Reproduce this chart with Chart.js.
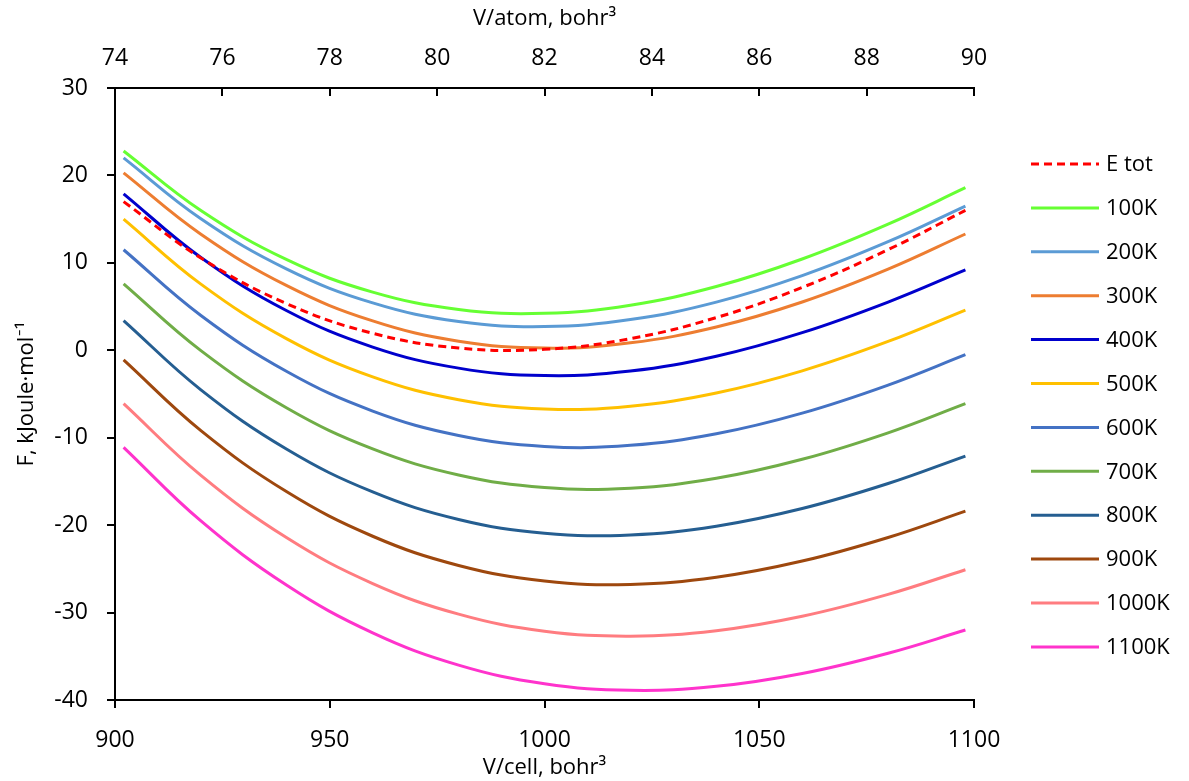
<!DOCTYPE html>
<html>
<head>
<meta charset="utf-8">
<script src="https://cdn.jsdelivr.net/npm/chart.js@4"></script>
<style>
  html, body { margin: 0; padding: 0; background: #fff; }
</style>
</head>
<body>
<canvas id="ChartCanvas1" width="1189" height="781"></canvas>
<script>
// volume per cell, bohr^3
const vCell = [902, 920, 940, 960, 980, 1000, 1020, 1040, 1060, 1080, 1098];

// free energy, kJ/mol
const eTot  = [17.0, 10.56, 5.32, 1.94, 0.26, 0.11, 1.33, 3.74, 7.19, 11.51, 16.0];
const f100  = [22.8, 15.98, 10.36, 6.65, 4.67, 4.23, 5.16, 7.29, 10.44, 14.43, 18.6];
const f200  = [22.0, 15.04, 9.28, 5.42, 3.29, 2.71, 3.51, 5.51, 8.54, 12.42, 16.5];
const f300  = [20.3, 13.28, 7.39, 3.36, 1.04, 0.25, 0.85, 2.66, 5.52, 9.28, 13.3];
const f400  = [17.9, 10.61, 4.52, 0.37, -2.04, -2.89, -2.38, -0.68, 2.02, 5.52, 9.2];
const f500  = [15.0, 7.57, 1.31, -3.04, -5.65, -6.71, -6.39, -4.88, -2.35, 1.01, 4.6];
const f600  = [11.5, 3.98, -2.43, -6.95, -9.74, -11.00, -10.87, -9.55, -7.19, -3.98, -0.5];
const f700  = [7.6, -0.04, -6.60, -11.28, -14.26, -15.70, -15.77, -14.64, -12.47, -9.44, -6.1];
const f800  = [3.4, -4.52, -11.32, -16.20, -19.35, -20.93, -21.12, -20.12, -18.10, -15.24, -12.1];
const f900  = [-1.1, -9.19, -16.19, -21.27, -24.61, -26.39, -26.78, -25.96, -24.11, -21.41, -18.4];
const f1000 = [-6.1, -14.31, -21.45, -26.68, -30.18, -32.13, -32.70, -32.07, -30.42, -27.92, -25.1];
const f1100 = [-11.1, -19.52, -26.88, -32.32, -36.01, -38.14, -38.89, -38.44, -36.97, -34.65, -32.0];

const seriesNames  = ['E tot', '100K', '200K', '300K', '400K', '500K', '600K', '700K', '800K', '900K', '1000K', '1100K'];
const seriesValues = [eTot, f100, f200, f300, f400, f500, f600, f700, f800, f900, f1000, f1100];
const seriesColors = ['#FF0000', '#66FF33', '#5B9BD5', '#ED7D31', '#0000CC', '#FFC000',
                      '#4472C4', '#70AD47', '#255E91', '#9E480E', '#FF7C80', '#FF33CC'];

const FONT = "'Open Sans', Lato, sans-serif";

// legend drawn at the right, like the spreadsheet one
const sideLegend = {
    id: 'sideLegend',
    afterDraw(chart)
    {
        const ctx = chart.ctx;
        ctx.save();
        chart.data.datasets.forEach((ds, i) => {
            const y = 164 + i * 43.9;
            ctx.strokeStyle = ds.borderColor;
            ctx.lineWidth = 3;
            ctx.setLineDash(ds.borderDash || []);
            ctx.beginPath();
            ctx.moveTo(1031, y);
            ctx.lineTo(1099, y);
            ctx.stroke();
            ctx.setLineDash([]);
            ctx.fillStyle = '#000';
            ctx.font = '22px ' + FONT;
            ctx.textBaseline = 'middle';
            ctx.fillText(ds.label, 1106, y + 1);
        });
        ctx.restore();
    }
};

const axisLine = { color: '#000', width: 2 };
const plain = (v) => String(v);

new Chart(document.getElementById('ChartCanvas1').getContext('2d'), {
    type: 'line',
    data: {
        datasets: seriesNames.map((name, i) => ({
            label: name,
            data: vCell.map((v, j) => ({ x: v, y: seriesValues[i][j] })),
            borderColor: seriesColors[i],
            backgroundColor: seriesColors[i],
            borderWidth: 3,
            borderDash: i === 0 ? [8, 5] : [],
            pointRadius: 0,
            tension: 0.4,
            xAxisID: 'x',
            yAxisID: 'y'
        }))
    },
    options: {
        responsive: false,
        animation: false,
        devicePixelRatio: 1,
        layout: { padding: { left: 0, top: 0, right: 215, bottom: 0 } },
        plugins: {
            legend: { display: false },
            tooltip: { enabled: false }
        },
        scales: {
            x: {
                type: 'linear',
                position: 'bottom',
                min: 900, max: 1100,
                border: axisLine,
                grid: { drawOnChartArea: false, color: '#000', lineWidth: 2, tickLength: 8 },
                ticks: { stepSize: 50, color: '#000', padding: 19, callback: plain,
                         font: { family: FONT, size: 23 } },
                title: { display: true, text: 'V/cell, bohr³', color: '#000',
                         font: { family: FONT, size: 22 }, padding: { top: 0, bottom: 0 } },
                afterFit: (s) => { s.height = 81; }
            },
            x2: {
                type: 'linear',
                position: 'top',
                min: 74, max: 90,
                border: axisLine,
                grid: { drawOnChartArea: false, color: '#000', lineWidth: 2, tickLength: -8 },
                ticks: { stepSize: 2, color: '#000', padding: 24, callback: plain,
                         font: { family: FONT, size: 23 } },
                title: { display: true, text: 'V/atom, bohr³', color: '#000',
                         font: { family: FONT, size: 22 }, padding: { top: 6, bottom: 0 } },
                afterFit: (s) => { s.height = 88; }
            },
            y: {
                type: 'linear',
                position: 'left',
                min: -40, max: 30,
                border: axisLine,
                grid: { drawOnChartArea: false, color: '#000', lineWidth: 2, tickLength: 8 },
                ticks: { stepSize: 10, color: '#000', padding: 19, callback: plain,
                         font: { family: FONT, size: 23 } },
                title: { display: true, text: 'F, kJoule·mol⁻¹', color: '#000',
                         font: { family: FONT, size: 22 }, padding: { top: 14, bottom: 0 } },
                afterFit: (s) => { s.width = 115; }
            }
        }
    },
    plugins: [sideLegend]
});
</script>
</body>
</html>
